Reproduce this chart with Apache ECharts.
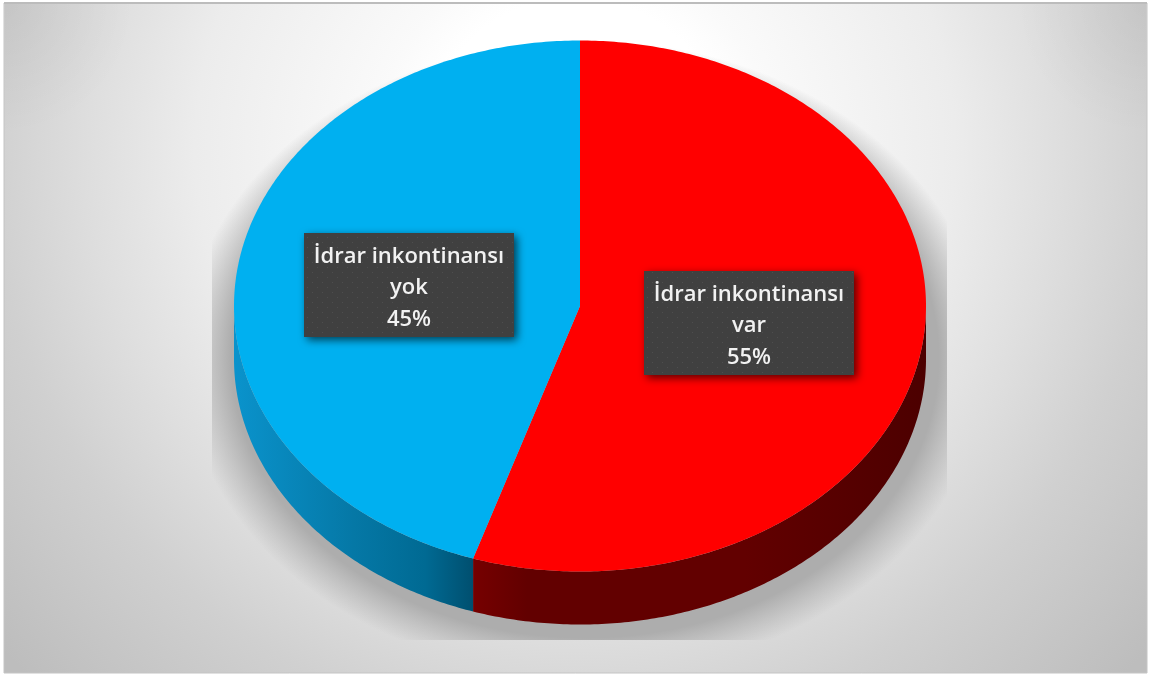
<!DOCTYPE html>
<html><head><meta charset="utf-8">
<style>html,body{margin:0;padding:0;background:#fff}#c{width:1151px;height:677px}</style>
<script src="https://cdn.jsdelivr.net/npm/echarts@6/dist/echarts.min.js"></script>
</head><body><div id="c"></div>
<script>
const categories = ['İdrar inkontinansı var', 'İdrar inkontinansı yok'];
const labelLines = [['İdrar inkontinansı', 'var'], ['İdrar inkontinansı', 'yok']];
const values = [55, 45];
const sliceColors = ['#ff0000', '#00b0f0'];

const CX = 580, CY = 306, RX = 346, RY = 265.5, DEPTH = 53;
const BOX_W = 210, BOX_H = 104;
const LABEL_CENTERS = [[749, 323], [409, 285]];
const total = values.reduce((a, b) => a + b, 0);
const starts = values.map((v, i) => values.slice(0, i).reduce((a, b) => a + b, 0) / total * Math.PI * 2);
const pt = (a, dy) => [CX + RX * Math.sin(a), CY - RY * Math.cos(a) + (dy || 0)];
function arc(a0, a1, dy) {
  const n = Math.max(2, Math.ceil(Math.abs(a1 - a0) * 90)), out = [];
  for (let i = 0; i <= n; i++) out.push(pt(a0 + (a1 - a0) * i / n, dy));
  return out;
}
const wallFills = [
  { type: 'linear', global: true, x: 473, y: 0, x2: 926, y2: 0, colorStops: [
    { offset: 0, color: '#760000' }, { offset: 0.12, color: '#620000' }, { offset: 0.6, color: '#620000' }, { offset: 1, color: '#4c0000' }] },
  { type: 'linear', global: true, x: 234, y: 0, x2: 473, y2: 0, colorStops: [
    { offset: 0, color: '#0a93cc' }, { offset: 0.5, color: '#0578a6' }, { offset: 0.8, color: '#006a93' }, { offset: 1, color: '#004f6f' }] }
];
const tile = document.createElement('canvas');
tile.width = tile.height = 10;
const g = tile.getContext('2d');
g.fillStyle = '#404040'; g.fillRect(0, 0, 10, 10);
g.fillStyle = '#4e4e4e'; g.fillRect(2, 2, 1, 1); g.fillRect(7, 7, 1, 1);

function renderSlice(params, api) {
  const i = params.dataIndex, a0 = starts[i], a1 = a0 + api.value(0) / total * Math.PI * 2;
  const top = arc(a0, a1);
  const wa0 = Math.max(a0, Math.PI / 2), wa1 = Math.min(a1, Math.PI * 1.5);
  const upper = arc(wa0, wa1), lower = arc(wa1, wa0, DEPTH);
  return { type: 'group', children: [
    { type: 'polygon', shape: { points: upper.concat(lower) }, style: { fill: wallFills[i] } },
    { type: 'polygon', shape: { points: [[CX, CY]].concat(top) }, style: { fill: sliceColors[i] } }
  ] };
}
function renderLabel(params, api) {
  const i = params.dataIndex, [x, y] = LABEL_CENTERS[i];
  const text = labelLines[i].concat(api.value(0) + '%').join('\n');
  return { type: 'group', children: [
    { type: 'rect', shape: { x: x - BOX_W / 2, y: y - BOX_H / 2, width: BOX_W, height: BOX_H },
      style: { fill: { image: tile, repeat: 'repeat' }, shadowBlur: 9, shadowOffsetX: 3, shadowOffsetY: 3, shadowColor: 'rgba(0,0,0,0.65)' } },
    { type: 'text', x: x, y: y + 3, style: { text: text, fill: '#f2f2f2', align: 'center', verticalAlign: 'middle',
      font: '600 22px "Open Sans", sans-serif', lineHeight: 31.5 } }
  ] };
}
function renderShadow() {
  const sx = 585, sy = 358, srx = 402, sry = 318;
  return { type: 'group', clipPath: { type: 'rect', shape: { x: 212, y: 0, width: 735, height: 640 } }, children: [
    { type: 'circle', shape: { cx: sx, cy: sy, r: srx }, originX: sx, originY: sy, scaleY: sry / srx,
      style: { fill: { type: 'radial', global: true, x: sx, y: sy, r: srx, colorStops: [
        { offset: 0, color: '#adadad' }, { offset: 0.88, color: '#adadad' }, { offset: 1, color: 'rgba(173,173,173,0)' }] } } }
  ] };
}
const rows = values.map((v, i) => ({ name: categories[i], value: [v] }));
const chart = echarts.init(document.getElementById('c'), null, { renderer: 'canvas' });
const cornerFill = (x, y) => ({ type: 'radial', global: true, x: x, y: y, r: 130, colorStops: [
  { offset: 0, color: 'rgba(0,0,0,0.05)' }, { offset: 1, color: 'rgba(0,0,0,0)' }] });
chart.setOption({
  animation: false,
  backgroundColor: '#ffffff',
  graphic: [
    { type: 'rect', z: -10, shape: { x: 4, y: 3, width: 1143, height: 670 },
      style: { stroke: '#c4c4c4', lineWidth: 1, fill: { type: 'radial', global: true, x: 575, y: 150, r: 760, colorStops: [
        { offset: 0, color: '#ffffff' }, { offset: 0.2, color: '#ffffff' }, { offset: 0.26, color: '#fafafa' }, { offset: 0.5, color: '#ececec' },
        { offset: 0.64, color: '#dedede' }, { offset: 0.77, color: '#d0d0d0' }, { offset: 1, color: '#bdbdbd' }] } } },
    { type: 'rect', z: -9, shape: { x: 5, y: 4, width: 130, height: 130 }, style: { fill: cornerFill(5, 4) } },
    { type: 'rect', z: -9, shape: { x: 1016, y: 4, width: 130, height: 130 }, style: { fill: cornerFill(1146, 4) } },
    { type: 'rect', z: -8, shape: { x: 4, y: 2, width: 1143, height: 2 }, style: { fill: '#bcbcbc' } }
  ],
  series: [
    { type: 'custom', coordinateSystem: 'none', silent: true, z: 1, data: [[1]], renderItem: renderShadow },
    { type: 'custom', coordinateSystem: 'none', silent: true, z: 2, data: rows, renderItem: renderSlice },
    { type: 'custom', coordinateSystem: 'none', silent: true, z: 3, data: rows, renderItem: renderLabel }
  ]
});
</script></body></html>
